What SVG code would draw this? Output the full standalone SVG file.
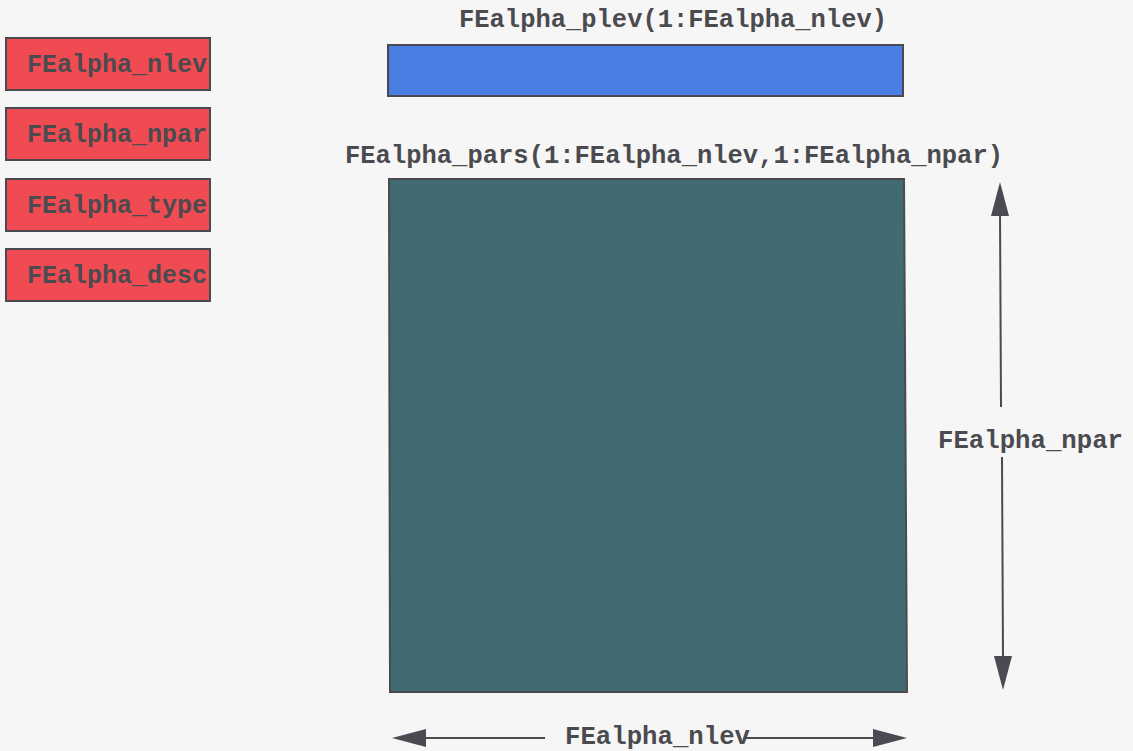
<svg xmlns="http://www.w3.org/2000/svg" width="1133" height="751" viewBox="0 0 1133 751">
<style>
.lbl{font-family:"Liberation Mono","Courier New",monospace;font-size:25px;fill:#4a4a4f;font-weight:bold}
.box{fill:#f04a52;stroke:#4a4a50;stroke-width:2}
.ln{stroke:#4a4a52;stroke-width:2;fill:none}
.ah{fill:#4a4a52}
</style>
<defs>
<clipPath id="c1"><rect x="6" y="30" width="204" height="280"/></clipPath>
</defs>
<rect x="0" y="0" width="1133" height="751" fill="#f6f6f6"/>
<g id="nlev"><rect class="box" x="6" y="38" width="204" height="52"/><text class="lbl" x="27" y="72" clip-path="url(#c1)">FEalpha_nlev</text></g>
<g id="npar"><rect class="box" x="6" y="108" width="204" height="52"/><text class="lbl" x="27" y="142" clip-path="url(#c1)">FEalpha_npar</text></g>
<g id="type"><rect class="box" x="6" y="179" width="204" height="52"/><text class="lbl" x="27" y="213" clip-path="url(#c1)">FEalpha_type</text></g>
<g id="desc"><rect class="box" x="6" y="249" width="204" height="52"/><text class="lbl" x="27" y="283" clip-path="url(#c1)">FEalpha_desc</text></g>
<g id="plev">
<text class="lbl" x="459" y="27" textLength="428" lengthAdjust="spacingAndGlyphs">FEalpha_plev(1:FEalpha_nlev)</text>
<rect x="388" y="45" width="515" height="51" fill="#4b7ee3" stroke="#4a4a55" stroke-width="2"/>
</g>
<g id="pars">
<text class="lbl" x="345" y="163" textLength="658" lengthAdjust="spacingAndGlyphs">FEalpha_pars(1:FEalpha_nlev,1:FEalpha_npar)</text>
<polygon points="389,179 904,179 907,692 390,692" fill="#3f6b71" stroke="#4a4a50" stroke-width="2"/>
</g>
<g id="connectors">
<line class="ln" x1="1000" y1="212" x2="1001" y2="407"/>
<line class="ln" x1="1002" y1="457" x2="1003" y2="658"/>
<polygon class="ah" points="1000,182 991,216 1009,216"/>
<polygon class="ah" points="1003,690 994,656 1012,656"/>
<text class="lbl" x="938" y="448" textLength="185" lengthAdjust="spacingAndGlyphs">FEalpha_npar</text>
<line class="ln" x1="424" y1="738" x2="545" y2="738"/>
<line class="ln" x1="745" y1="738" x2="874" y2="738"/>
<polygon class="ah" points="392,738 426,729 426,747"/>
<polygon class="ah" points="907,738 873,729 873,747"/>
<text class="lbl" x="565" y="744" textLength="185" lengthAdjust="spacingAndGlyphs">FEalpha_nlev</text>
</g>
</svg>
